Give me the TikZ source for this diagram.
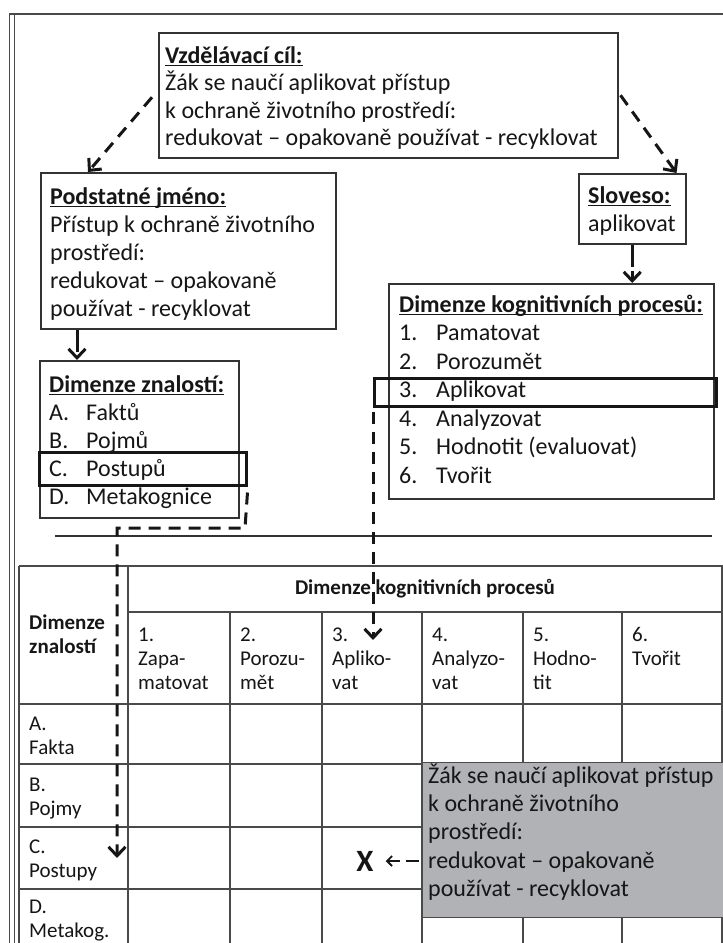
\documentclass[tikz,border=0pt]{standalone}
\usepackage{fontspec}
\setmainfont{Carlito}
\usetikzlibrary{arrows.meta,calc}
\definecolor{ink}{HTML}{161616}
\definecolor{linec}{HTML}{333333}
\definecolor{gridc}{HTML}{4A4A4A}
\definecolor{grayfill}{HTML}{B0B2B5}
\newcommand\myul[1]{\setbox0=\hbox{#1}\rlap{\rule[-3pt]{\wd0}{1.4pt}}\box0}
\newcommand\BxTop{\rule{0pt}{21pt}}
\newcommand\ClTop{\rule{0pt}{17pt}}
\newcommand\GoalFont{\fontsize{24}{27.5}\selectfont\lineskiplimit=-100pt\relax}
\newcommand\BoxFont{\fontsize{24}{28}\selectfont\lineskiplimit=-100pt\relax}
\newcommand\WideFont{\fontsize{24}{28.3}\selectfont\lineskiplimit=-100pt\relax}
\newcommand\KogFont{\fontsize{24}{28.5}\selectfont\lineskiplimit=-100pt\relax}
\newcommand\CellFont{\fontsize{21}{24}\selectfont\lineskiplimit=-100pt\relax}
\newcommand\XFont{\fontsize{31}{31}\selectfont\bfseries}
\newcommand\ListItem[2]{\makebox[37pt][l]{#1}#2}
\begin{document}
\begin{tikzpicture}[x=1pt,y=-1pt,
  box/.style={draw=linec, line width=1.5pt, rectangle, inner sep=0pt, anchor=north west},
  hl/.style={draw=ink, line width=2.5pt, rectangle, inner sep=0pt, anchor=north west},
  txt/.style={anchor=north west, inner sep=0pt, align=left, font=\BoxFont, text=ink},
  cell/.style={anchor=north west, inner sep=0pt, align=left, font=\CellFont, text=ink},
  conn/.style={draw=ink, line width=3pt, dash pattern=on 12pt off 8pt, -{Straight Barb[length=9pt,width=17pt,line width=3pt]}},
  shortconn/.style={conn, dash pattern=on 22pt off 4pt},
  xconn/.style={draw=ink, line width=1.8pt, dash pattern=on 13pt off 6pt, -{Straight Barb[length=5pt,width=10pt]}},
  gridl/.style={draw=gridc, line width=1.3pt}]
\useasboundingbox (0,0) rectangle (723,943);
\clip (0,0) rectangle (723,943);
\fill[white] (0,0) rectangle (723,943);
% outer frame
\draw[gridc, line width=1.3pt] (9.5,960) -- (9.5,14) -- (740,14);
\draw[gridc, line width=1pt] (14,960) -- (14,14);
% boxes
\node[box, minimum width=459pt, minimum height=125pt] (goal) at (158,32) {};
\node[box, minimum width=295pt, minimum height=156pt] (pod) at (40,172) {};
\node[box, minimum width=107pt, minimum height=70pt] (slov) at (578,173) {};
\node[box, minimum width=325pt, minimum height=215pt] (kog) at (388,283) {};
\node[box, minimum width=199pt, minimum height=157pt] (zna) at (39,360) {};
% texts
\node[txt, font=\GoalFont] (goaltxt) at (165,42) {\BxTop\myul{\textbf{Vzdělávací cíl:}}\\Žák se naučí aplikovat přístup\\k ochraně životního prostředí:\\redukovat – opakovaně používat - recyklovat};
\node[txt] (podtxt) at (50,183) {\BxTop\myul{\textbf{Podstatné jméno:}}\\Přístup k ochraně životního\\prostředí:\\redukovat – opakovaně\\používat - recyklovat};
\node[txt] (slovtxt) at (588,182) {\BxTop\myul{\textbf{Sloveso:}}\\aplikovat};
\node[txt, font=\KogFont] (kogtxt) at (399,291) {\BxTop\myul{\textbf{Dimenze kognitivních procesů:}}\\\ListItem{1.}{Pamatovat}\\\ListItem{2.}{Porozumět}\\\ListItem{3.}{Aplikovat}\\\ListItem{4.}{Analyzovat}\\\ListItem{5.}{Hodnotit (evaluovat)}\\\ListItem{6.}{Tvořit}};
\node[txt] (znatxt) at (49,371) {\BxTop\myul{\textbf{Dimenze znalostí:}}\\\ListItem{A.}{Faktů}\\\ListItem{B.}{Pojmů}\\\ListItem{C.}{Postupů}\\\ListItem{D.}{Metakognice}};
% highlights
\node[hl, minimum width=207pt, minimum height=33pt] (hlC) at (38,451) {};
\node[hl, minimum width=342pt, minimum height=28pt] (hl3) at (373,377) {};
% separator
\draw[linec, line width=1.5pt] (55,536) -- (712,536);
% table grid
\foreach \y in {566,704,764,827,889} \draw[gridl] (19,\y) -- (730,\y);
\draw[gridl] (128,612) -- (730,612);
\foreach \x in {19,128,722} \draw[gridl] (\x,566) -- (\x,950);
\foreach \x in {230,322,422,523,622} \draw[gridl] (\x,612) -- (\x,950);
% table texts
\node[cell, font=\CellFont\bfseries] (dz) at (29,612) {\ClTop Dimenze\\znalostí};
\node[font=\CellFont\bfseries, text=ink, inner sep=0pt] (dkp) at (425,589) {Dimenze kognitivních procesů};
\node[cell] (h1) at (138,624) {\ClTop 1.\\Zapa-\\matovat};
\node[cell] (h2) at (240,624) {\ClTop 2.\\Porozu-\\mět};
\node[cell] (h3) at (332,624) {\ClTop 3.\\Apliko-\\vat};
\node[cell] (h4) at (432,624) {\ClTop 4.\\Analyzo-\\vat};
\node[cell] (h5) at (533,624) {\ClTop 5.\\Hodno-\\tit};
\node[cell] (h6) at (632,624) {\ClTop 6.\\Tvořit};
\node[cell] (rA) at (29,713) {\ClTop A.\\Fakta};
\node[cell] (rB) at (29,774) {\ClTop B.\\Pojmy};
\node[cell] (rC) at (29,836) {\ClTop C.\\Postupy};
\node[cell] (rD) at (29,896) {\ClTop D.\\Metakog.};
% grey box
\node[draw=gridc, line width=1pt, fill=grayfill, minimum width=320pt, minimum height=155pt, anchor=north west, inner sep=0pt] (gray) at (422,762) {};
\node[txt, font=\WideFont] (graytxt) at (428,762) {\BxTop Žák se naučí aplikovat přístup\\k ochraně životního\\prostředí:\\redukovat – opakovaně\\používat - recyklovat};
\node[font=\XFont, text=ink, inner sep=0pt] (X) at (365,861) {X};
% connectors
\coordinate (bendA) at (245,528);
\coordinate (bendB) at (117,528);
\coordinate (cTip) at (117,858);
\coordinate (aTip) at (373,640);
\draw[conn] ($(goal.west)+(-6,2)$) -- ($(pod.north west)+(48,0)$);
\draw[conn] ($(goal.east)+(2,0)$) -- ($(slov.north east)+(-10,0)$);
\draw[shortconn] (slov.south) -- (slov.south |- kog.north);
\draw[shortconn] ($(pod.south west)+(37,0)$) -- ($(zna.north west)+(38,0)$);
\draw[conn] ($(hlC.south east)+(0,6)$) -- (bendA) -- (bendB) -- (cTip);
\draw[conn] ($(hl3.south west)+(0,4)$) -- (hl3.south west |- aTip);
\draw[xconn] ($(gray.west)+(-3,21)$) -- ($(X.east)+(12,0)$);
\end{tikzpicture}
\end{document}
